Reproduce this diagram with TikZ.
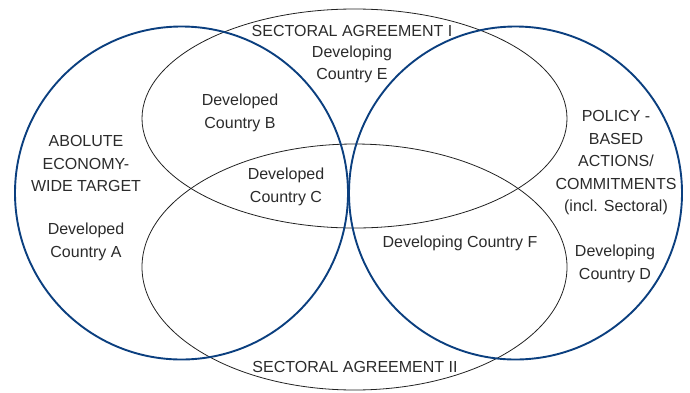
\documentclass[tikz,border=0pt]{standalone}
\usepackage{fontspec}
\setmainfont{Liberation Sans}
\definecolor{navy}{HTML}{0B3F7F}
\definecolor{txt}{HTML}{2B2B2B}
\definecolor{thin}{HTML}{222222}
\begin{document}
\begin{tikzpicture}[x=1pt,y=-1pt,
  lbl/.style={text=txt,align=center,font=\fontsize{16}{22.5}\selectfont,inner sep=0pt},
  setline/.style={draw=thin,line width=0.8pt},
  bigset/.style={draw=navy,line width=1.9pt}]
\useasboundingbox (0,0) rectangle (690,392);
% sectoral agreements (ellipses)
\draw[setline] (354.5,118.5) ellipse [x radius=212.5, y radius=109.5];
\draw[setline] (354.5,267) ellipse [x radius=212.5, y radius=123];
% main sets (circles)
\draw[bigset] (181.5,193) circle [radius=166.5];
\draw[bigset] (515.5,193) circle [radius=166.5];
% labels
\node[lbl] (sa1) at (352,31) {SECTORAL AGREEMENT I};
\node[lbl] (e) at (352,64.5) {Developing\\Country E};
\node[lbl] (b) at (240,113) {Developed\\Country B};
\node[lbl] (abs) at (86,163.5) {ABOLUTE\\ECONOMY-\\WIDE TARGET};
\node[lbl] (c) at (286,187) {Developed\\Country C};
\node[lbl] (a) at (86,242) {Developed\\Country A};
\node[lbl] (pol) at (616,163) {POLICY -\\BASED\\ACTIONS/\\COMMITMENTS\\(incl. Sectoral)};
\node[lbl] (f) at (460,243) {Developing Country F};
\node[lbl] (d) at (615,264) {Developing\\Country D};
\node[lbl] (sa2) at (355,367) {SECTORAL AGREEMENT II};
\end{tikzpicture}
\end{document}
